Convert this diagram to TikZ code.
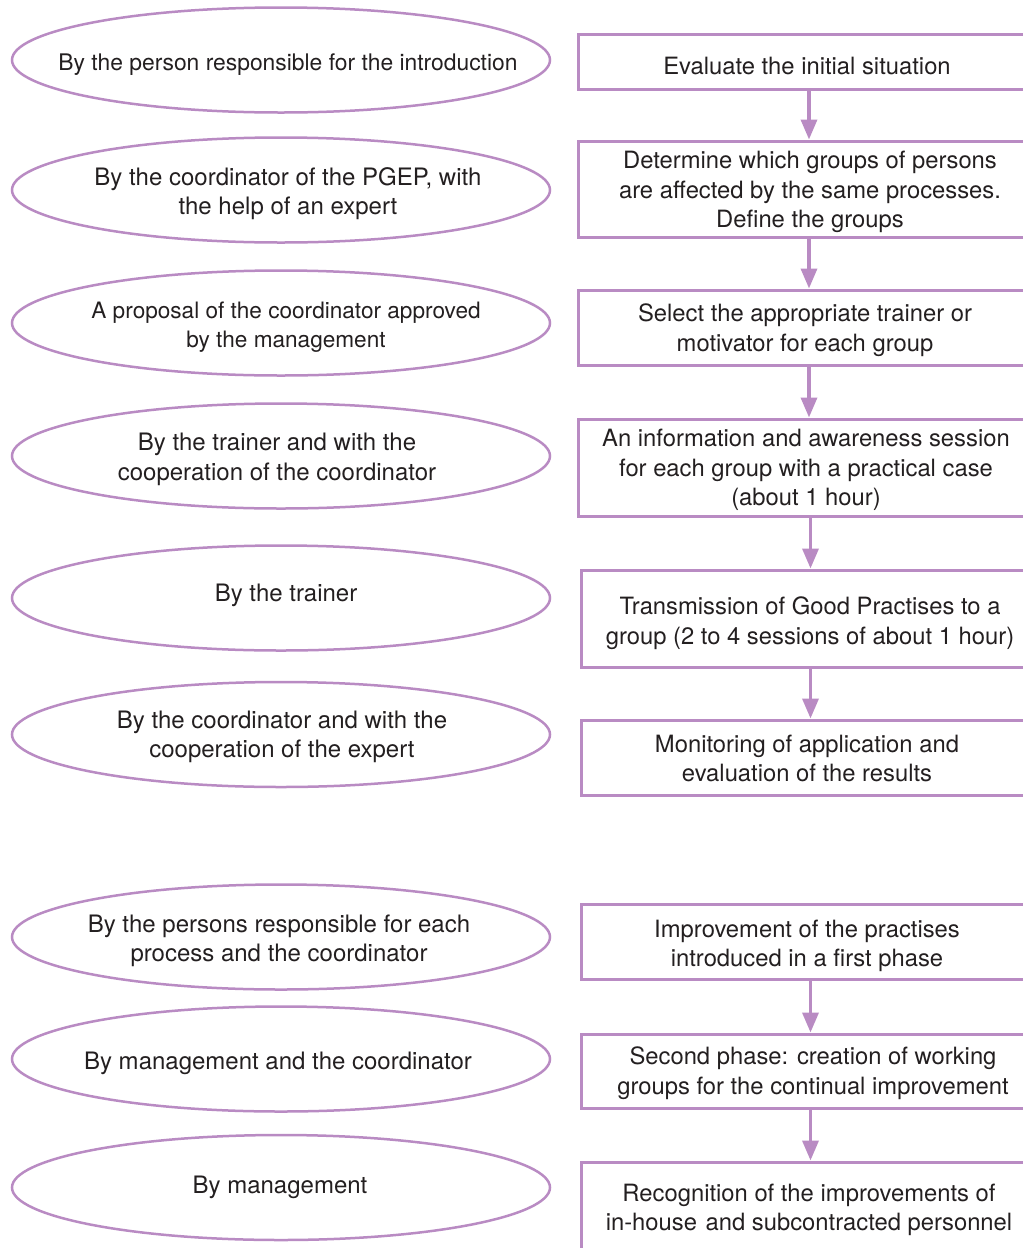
\documentclass[tikz,border=0pt]{standalone}
\usepackage{fontspec}
\setmainfont{TeX Gyre Heros}
\usetikzlibrary{shapes.geometric,arrows.meta}
\definecolor{lilac}{HTML}{B98BC3}
\definecolor{ink}{HTML}{231F20}
\begin{document}
\begin{tikzpicture}[x=1pt,y=-1pt,
  who/.style={ellipse,draw=lilac,line width=2.5pt,minimum width=538pt,minimum height=105pt,inner sep=0pt},
  task/.style={rectangle,draw=lilac,line width=3pt,inner sep=0pt},
  whotext/.style={align=center,text=ink,inner sep=0pt,font=\fontsize{24}{29.5}\selectfont},
  tasktext/.style={align=center,text=ink,inner sep=0pt,font=\fontsize{23.8}{29.5}\selectfont},
  flow/.style={draw=lilac,line width=3.5pt,-{Triangle[width=16pt,length=20pt]}}]
\useasboundingbox (0,0) rectangle (1023,1248);
\clip (0,0) rectangle (1023,1248);

% who is responsible for each step
\node[who] (w1) at (281,60)    {};
\node[who] (w2) at (281,190)   {};
\node[who] (w3) at (281,323)   {};
\node[who] (w4) at (281,456)   {};
\node[who] (w5) at (281,598)   {};
\node[who] (w6) at (281,734.5) {};
\node[who] (w7) at (281,937)   {};
\node[who] (w8) at (281,1059)  {};
\node[who] (w9) at (281,1187.5){};

\node[whotext,font=\fontsize{22.85}{29.5}\selectfont] (l1) at (288,65)
  {By the person responsible for the introduction};
\node[whotext] (l2) at (288,193.5) {By the coordinator of the PGEP, with\\the help of an expert};
\node[whotext,font=\fontsize{22.6}{29.5}\selectfont] (l3) at (286,327)
  {A proposal of the coordinator approved\\by the management};
\node[whotext] (l4) at (277,459.5) {By the trainer and with the\\cooperation of the coordinator};
\node[whotext] (l5) at (286,595)   {By the trainer};
\node[whotext] (l6) at (282,737)   {By the coordinator and with the\\cooperation of the expert};
\node[whotext] (l7) at (279,941)   {By the persons responsible for each\\process and the coordinator};
\node[whotext] (l8) at (278,1063)  {By management and the coordinator};
\node[whotext] (l9) at (280,1187)  {By management};

% the steps
\node[task,minimum width=462pt,minimum height=55pt] (s1) at (809,61.5)   {};
\node[task,minimum width=462pt,minimum height=96pt] (s2) at (809,189)    {};
\node[task,minimum width=462pt,minimum height=75pt] (s3) at (809,327.5)  {};
\node[task,minimum width=462pt,minimum height=97pt] (s4) at (809,467.5)  {};
\node[task,minimum width=459pt,minimum height=97pt] (s5) at (810.5,618.5){};
\node[task,minimum width=459pt,minimum height=75pt] (s6) at (810.5,757.5){};
\node[task,minimum width=459pt,minimum height=75pt] (s7) at (810.5,941.5){};
\node[task,minimum width=459pt,minimum height=74pt] (s8) at (810.5,1071) {};
\node[task,minimum width=459pt,minimum height=91pt] (s9) at (810.5,1207.5){};

\node[tasktext] (t1) at (807,65.5) {Evaluate the initial situation};
\node[tasktext] (t2) at (810,192)
  {Determine which groups of persons\\are affected by the same processes.\\Define the groups};
\node[tasktext] (t3) at (805,330) {Select the appropriate trainer or\\motivator for each group};
\node[tasktext] (t4) at (806,470)
  {An information and awareness session\\for each group with a practical case\\(about 1 hour)};
\node[tasktext] (t5) at (810,623)
  {Transmission of Good Practises to a\\group (2 to 4 sessions of about 1 hour)};
\node[tasktext] (t6) at (807,758.5) {Monitoring of application and\\evaluation of the results};
\node[tasktext] (t7) at (807,946) {Improvement of the practises\\introduced in a first phase};
\node[tasktext] (t8) at (813,1073)
  {Second phase: creation of working\\groups for the continual improvement};
\node[tasktext] (t9) at (809,1210)
  {Recognition of the improvements of\\in-house\hspace{2pt} and subcontracted personnel};

% connectors between consecutive steps
\draw[flow] (s1.south) -- (s2.north);
\draw[flow] (s2.south) -- (s3.north);
\draw[flow] (s3.south) -- (s4.north);
\draw[flow] (s4.south -| s5.north) -- (s5.north);
\draw[flow] (s5.south) -- (s6.north);
\draw[flow] (s7.south) -- (s8.north);
\draw[flow] (s8.south) -- (s9.north);
\end{tikzpicture}
\end{document}
